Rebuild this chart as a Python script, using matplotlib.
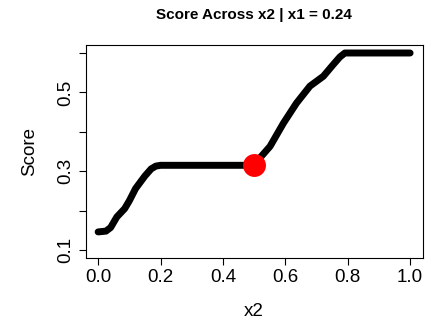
import matplotlib

matplotlib.use("Agg")
import matplotlib.pyplot as plt

plt.rcParams["font.family"] = ["Liberation Sans", "DejaVu Sans"]

# score profile along x2 with x1 held at 0.24
x2 = [0.00, 0.025, 0.04, 0.06, 0.085, 0.10, 0.12, 0.15, 0.17, 0.185, 0.20,
      0.30, 0.40, 0.50, 0.52, 0.551, 0.594, 0.636, 0.679, 0.722, 0.754,
      0.775, 0.791, 0.85, 0.90, 0.95, 1.00]
score = [0.146, 0.148, 0.157, 0.184, 0.205, 0.225, 0.256, 0.288, 0.306, 0.313, 0.315,
         0.315, 0.315, 0.315, 0.335, 0.363, 0.422, 0.473, 0.516, 0.541, 0.571,
         0.590, 0.600, 0.600, 0.600, 0.600, 0.600]

# current point
x2_now = 0.50
score_now = 0.315

x_ticks = [0.0, 0.2, 0.4, 0.6, 0.8, 1.0]
y_ticks = [0.1, 0.2, 0.3, 0.4, 0.5, 0.6]
y_ticklabels = ["0.1", "", "0.3", "", "0.5", ""]

fig = plt.figure(figsize=(4.37, 3.2), dpi=100)
ax = fig.add_axes([0.196, 0.194, 0.771, 0.665])

ax.plot(x2, score, color="black", lw=5, solid_capstyle="round", solid_joinstyle="round")
ax.plot([x2_now], [score_now], "o", color="#FF0000", ms=16.5, mec="none", zorder=3)

ax.set_xlim(-0.04, 1.04)
ax.set_ylim(0.08, 0.62)
ax.set_xticks(x_ticks)
ax.set_xticklabels([f"{t:.1f}" for t in x_ticks])
ax.set_yticks(y_ticks)
ax.set_yticklabels(y_ticklabels, rotation=90, va="center")
ax.tick_params(axis="both", length=5, width=0.8, labelsize=13.5, color="black")
ax.tick_params(axis="x", pad=3)
ax.tick_params(axis="y", pad=3.5)
for spine in ax.spines.values():
    spine.set_linewidth(0.8)
    spine.set_color("black")

ax.set_xlabel("x2", fontsize=13.5)
ax.xaxis.set_label_coords(0.5, -0.253)
ax.xaxis.label.set_verticalalignment("center")
ax.set_ylabel("Score", fontsize=13.5)
ax.yaxis.set_label_coords(-0.165, 0.5)
ax.yaxis.label.set_verticalalignment("center")

fig.text(0.582, 0.953, "Score Across x2 | x1 = 0.24", ha="center", va="center",
         fontsize=11, fontweight="bold")

fig.savefig("out.png", dpi=100)
plt.close(fig)
